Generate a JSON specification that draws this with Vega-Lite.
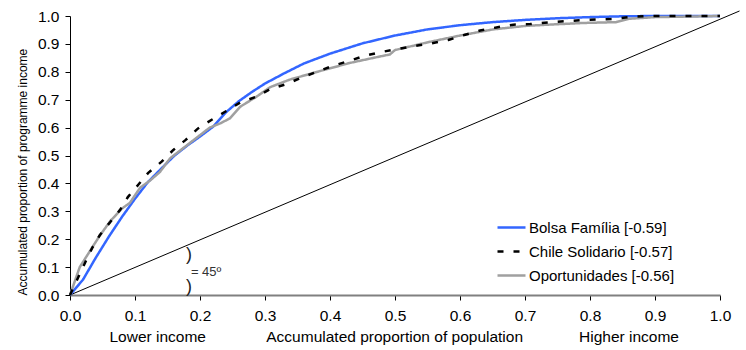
{
  "$schema": "https://vega.github.io/schema/vega-lite/v6.json",
  "width": 650,
  "height": 279,
  "autosize": {"type": "none"},
  "padding": {"left": 70, "top": 16, "right": 26, "bottom": 55},
  "config": {"view": {"stroke": null}, "font": "Liberation Sans"},
  "datasets": {
    "diag": [{"x": 0, "y": 0, "x2": 1.03, "y2": 1.018}],
    "curves": [
      {"s": "Bolsa Família [-0.59]", "x": 0, "y": 0},
      {"s": "Bolsa Família [-0.59]", "x": 0.02, "y": 0.055},
      {"s": "Bolsa Família [-0.59]", "x": 0.04, "y": 0.135},
      {"s": "Bolsa Família [-0.59]", "x": 0.06, "y": 0.21},
      {"s": "Bolsa Família [-0.59]", "x": 0.08, "y": 0.28},
      {"s": "Bolsa Família [-0.59]", "x": 0.1, "y": 0.345},
      {"s": "Bolsa Família [-0.59]", "x": 0.12, "y": 0.405},
      {"s": "Bolsa Família [-0.59]", "x": 0.14, "y": 0.452},
      {"s": "Bolsa Família [-0.59]", "x": 0.16, "y": 0.498},
      {"s": "Bolsa Família [-0.59]", "x": 0.18, "y": 0.535},
      {"s": "Bolsa Família [-0.59]", "x": 0.2, "y": 0.568},
      {"s": "Bolsa Família [-0.59]", "x": 0.22, "y": 0.603},
      {"s": "Bolsa Família [-0.59]", "x": 0.24, "y": 0.655},
      {"s": "Bolsa Família [-0.59]", "x": 0.26, "y": 0.695},
      {"s": "Bolsa Família [-0.59]", "x": 0.28, "y": 0.728},
      {"s": "Bolsa Família [-0.59]", "x": 0.3, "y": 0.758},
      {"s": "Bolsa Família [-0.59]", "x": 0.33, "y": 0.795},
      {"s": "Bolsa Família [-0.59]", "x": 0.36, "y": 0.83},
      {"s": "Bolsa Família [-0.59]", "x": 0.4, "y": 0.865},
      {"s": "Bolsa Família [-0.59]", "x": 0.45, "y": 0.902},
      {"s": "Bolsa Família [-0.59]", "x": 0.5, "y": 0.93},
      {"s": "Bolsa Família [-0.59]", "x": 0.55, "y": 0.952},
      {"s": "Bolsa Família [-0.59]", "x": 0.6, "y": 0.967},
      {"s": "Bolsa Família [-0.59]", "x": 0.65, "y": 0.978},
      {"s": "Bolsa Família [-0.59]", "x": 0.7, "y": 0.986},
      {"s": "Bolsa Família [-0.59]", "x": 0.75, "y": 0.992},
      {"s": "Bolsa Família [-0.59]", "x": 0.8, "y": 0.996},
      {"s": "Bolsa Família [-0.59]", "x": 0.85, "y": 0.999},
      {"s": "Bolsa Família [-0.59]", "x": 0.9, "y": 1.0},
      {"s": "Bolsa Família [-0.59]", "x": 1.0, "y": 1.0},
      {"s": "Oportunidades [-0.56]", "x": 0, "y": 0},
      {"s": "Oportunidades [-0.56]", "x": 0.015, "y": 0.1},
      {"s": "Oportunidades [-0.56]", "x": 0.03, "y": 0.155},
      {"s": "Oportunidades [-0.56]", "x": 0.045, "y": 0.21},
      {"s": "Oportunidades [-0.56]", "x": 0.062, "y": 0.265},
      {"s": "Oportunidades [-0.56]", "x": 0.08, "y": 0.31},
      {"s": "Oportunidades [-0.56]", "x": 0.092, "y": 0.33},
      {"s": "Oportunidades [-0.56]", "x": 0.108, "y": 0.385},
      {"s": "Oportunidades [-0.56]", "x": 0.123, "y": 0.41},
      {"s": "Oportunidades [-0.56]", "x": 0.138, "y": 0.44},
      {"s": "Oportunidades [-0.56]", "x": 0.154, "y": 0.49},
      {"s": "Oportunidades [-0.56]", "x": 0.164, "y": 0.508},
      {"s": "Oportunidades [-0.56]", "x": 0.19, "y": 0.555},
      {"s": "Oportunidades [-0.56]", "x": 0.2, "y": 0.573},
      {"s": "Oportunidades [-0.56]", "x": 0.215, "y": 0.6},
      {"s": "Oportunidades [-0.56]", "x": 0.231, "y": 0.615},
      {"s": "Oportunidades [-0.56]", "x": 0.246, "y": 0.633},
      {"s": "Oportunidades [-0.56]", "x": 0.262, "y": 0.675},
      {"s": "Oportunidades [-0.56]", "x": 0.287, "y": 0.711},
      {"s": "Oportunidades [-0.56]", "x": 0.308, "y": 0.745},
      {"s": "Oportunidades [-0.56]", "x": 0.338, "y": 0.772},
      {"s": "Oportunidades [-0.56]", "x": 0.385, "y": 0.803},
      {"s": "Oportunidades [-0.56]", "x": 0.431, "y": 0.832},
      {"s": "Oportunidades [-0.56]", "x": 0.477, "y": 0.855},
      {"s": "Oportunidades [-0.56]", "x": 0.492, "y": 0.862},
      {"s": "Oportunidades [-0.56]", "x": 0.5, "y": 0.878},
      {"s": "Oportunidades [-0.56]", "x": 0.549, "y": 0.905},
      {"s": "Oportunidades [-0.56]", "x": 0.6, "y": 0.93},
      {"s": "Oportunidades [-0.56]", "x": 0.651, "y": 0.952},
      {"s": "Oportunidades [-0.56]", "x": 0.703, "y": 0.965},
      {"s": "Oportunidades [-0.56]", "x": 0.754, "y": 0.971},
      {"s": "Oportunidades [-0.56]", "x": 0.79, "y": 0.975},
      {"s": "Oportunidades [-0.56]", "x": 0.84, "y": 0.978},
      {"s": "Oportunidades [-0.56]", "x": 0.86, "y": 0.99},
      {"s": "Oportunidades [-0.56]", "x": 0.9, "y": 0.996},
      {"s": "Oportunidades [-0.56]", "x": 1.0, "y": 1.0},
      {"s": "Chile Solidario [-0.57]", "x": 0, "y": 0},
      {"s": "Chile Solidario [-0.57]", "x": 0.012, "y": 0.06},
      {"s": "Chile Solidario [-0.57]", "x": 0.023, "y": 0.115},
      {"s": "Chile Solidario [-0.57]", "x": 0.034, "y": 0.168},
      {"s": "Chile Solidario [-0.57]", "x": 0.046, "y": 0.215},
      {"s": "Chile Solidario [-0.57]", "x": 0.062, "y": 0.262},
      {"s": "Chile Solidario [-0.57]", "x": 0.077, "y": 0.305},
      {"s": "Chile Solidario [-0.57]", "x": 0.089, "y": 0.351},
      {"s": "Chile Solidario [-0.57]", "x": 0.105, "y": 0.395},
      {"s": "Chile Solidario [-0.57]", "x": 0.12, "y": 0.437},
      {"s": "Chile Solidario [-0.57]", "x": 0.141, "y": 0.478},
      {"s": "Chile Solidario [-0.57]", "x": 0.159, "y": 0.52},
      {"s": "Chile Solidario [-0.57]", "x": 0.178, "y": 0.556},
      {"s": "Chile Solidario [-0.57]", "x": 0.197, "y": 0.597},
      {"s": "Chile Solidario [-0.57]", "x": 0.218, "y": 0.628},
      {"s": "Chile Solidario [-0.57]", "x": 0.241, "y": 0.66},
      {"s": "Chile Solidario [-0.57]", "x": 0.262, "y": 0.69},
      {"s": "Chile Solidario [-0.57]", "x": 0.287, "y": 0.711},
      {"s": "Chile Solidario [-0.57]", "x": 0.308, "y": 0.738},
      {"s": "Chile Solidario [-0.57]", "x": 0.333, "y": 0.756},
      {"s": "Chile Solidario [-0.57]", "x": 0.356, "y": 0.779},
      {"s": "Chile Solidario [-0.57]", "x": 0.38, "y": 0.8},
      {"s": "Chile Solidario [-0.57]", "x": 0.405, "y": 0.822},
      {"s": "Chile Solidario [-0.57]", "x": 0.431, "y": 0.84},
      {"s": "Chile Solidario [-0.57]", "x": 0.454, "y": 0.858},
      {"s": "Chile Solidario [-0.57]", "x": 0.477, "y": 0.87},
      {"s": "Chile Solidario [-0.57]", "x": 0.5, "y": 0.88},
      {"s": "Chile Solidario [-0.57]", "x": 0.531, "y": 0.893},
      {"s": "Chile Solidario [-0.57]", "x": 0.556, "y": 0.902},
      {"s": "Chile Solidario [-0.57]", "x": 0.582, "y": 0.914},
      {"s": "Chile Solidario [-0.57]", "x": 0.608, "y": 0.933},
      {"s": "Chile Solidario [-0.57]", "x": 0.631, "y": 0.948},
      {"s": "Chile Solidario [-0.57]", "x": 0.656, "y": 0.959},
      {"s": "Chile Solidario [-0.57]", "x": 0.682, "y": 0.969},
      {"s": "Chile Solidario [-0.57]", "x": 0.708, "y": 0.971},
      {"s": "Chile Solidario [-0.57]", "x": 0.735, "y": 0.977},
      {"s": "Chile Solidario [-0.57]", "x": 0.787, "y": 0.985},
      {"s": "Chile Solidario [-0.57]", "x": 0.838, "y": 0.99},
      {"s": "Chile Solidario [-0.57]", "x": 0.864, "y": 0.997},
      {"s": "Chile Solidario [-0.57]", "x": 0.89, "y": 1.0},
      {"s": "Chile Solidario [-0.57]", "x": 1.0, "y": 1.0}
    ],
    "label": [{"x": 0.186, "y": 0.082, "t": "= 45º"}],
    "arcs": [{"x": 0.183, "y": 0.145, "t": ")"}, {"x": 0.183, "y": 0.027, "t": ")"}]
  },
  "encoding": {
    "x": {
      "field": "x", "type": "quantitative",
      "scale": {"domain": [0, 1], "nice": false},
      "axis": {
        "values": [0, 0.1, 0.2, 0.3, 0.4, 0.5, 0.6, 0.7, 0.8, 0.9, 1.0],
        "format": ".1f", "grid": false,
        "domainColor": "#808080", "domainWidth": 2,
        "tickColor": "#000000", "tickSize": 5, "tickWidth": 1,
        "labelFontSize": 15.5, "labelColor": "#000000", "labelPadding": 8,
        "labelFlush": false,
        "title": "Lower income\u00a0\u00a0\u00a0\u00a0\u00a0\u00a0\u00a0\u00a0\u00a0\u00a0\u00a0\u00a0\u00a0\u00a0Accumulated proportion of population\u00a0\u00a0\u00a0\u00a0\u00a0\u00a0\u00a0\u00a0\u00a0\u00a0\u00a0\u00a0\u00a0Higher income",
        "titleFontSize": 15.5, "titleFontWeight": "normal", "titleColor": "#000000",
        "titleAnchor": "start", "titleX": 39, "titlePadding": 6
      }
    },
    "y": {
      "field": "y", "type": "quantitative",
      "scale": {"domain": [0, 1], "nice": false},
      "axis": {
        "values": [0, 0.1, 0.2, 0.3, 0.4, 0.5, 0.6, 0.7, 0.8, 0.9, 1.0],
        "format": ".1f", "grid": false,
        "domainColor": "#000000", "domainWidth": 1,
        "tickColor": "#000000", "tickSize": 5, "tickWidth": 1,
        "labelFontSize": 15.5, "labelColor": "#000000", "labelPadding": 6,
        "labelFlush": false,
        "title": "Accumulated proportion of programme income",
        "titleFontSize": 12, "titleFontWeight": "normal", "titleColor": "#000000",
        "titleAnchor": "start", "titlePadding": 8
      }
    }
  },
  "layer": [
    {
      "data": {"name": "diag"},
      "mark": {"type": "rule", "color": "#000000", "strokeWidth": 1},
      "encoding": {"x2": {"field": "x2"}, "y2": {"field": "y2"}}
    },
    {
      "data": {"name": "curves"},
      "mark": {"type": "line", "strokeWidth": 2.5},
      "encoding": {
        "color": {
          "field": "s", "type": "nominal",
          "scale": {
            "domain": ["Bolsa Família [-0.59]", "Chile Solidario [-0.57]", "Oportunidades [-0.56]"],
            "range": ["#3366ff", "#000000", "#a0a0a0"]
          },
          "legend": {
            "title": null, "orient": "none", "legendX": 426, "legendY": 196,
            "symbolType": "stroke", "symbolSize": 784, "symbolStrokeWidth": 2.5,
            "labelFontSize": 15, "labelColor": "#000000", "labelOffset": 2,
            "rowPadding": -12
          }
        },
        "strokeDash": {
          "field": "s", "type": "nominal",
          "scale": {
            "domain": ["Bolsa Família [-0.59]", "Chile Solidario [-0.57]", "Oportunidades [-0.56]"],
            "range": [[1, 0], [6, 10], [1, 0]]
          },
          "legend": {
            "title": null, "orient": "none", "legendX": 426, "legendY": 196,
            "symbolType": "stroke", "symbolSize": 784, "symbolStrokeWidth": 2.5,
            "labelFontSize": 15, "labelColor": "#000000", "labelOffset": 2,
            "rowPadding": -12
          }
        }
      }
    },
    {
      "data": {"name": "label"},
      "mark": {"type": "text", "align": "left", "baseline": "middle", "fontSize": 13, "color": "#333333"},
      "encoding": {"text": {"field": "t"}}
    },
    {
      "data": {"name": "arcs"},
      "mark": {"type": "text", "align": "center", "baseline": "middle", "fontSize": 18, "color": "#222222"},
      "encoding": {"text": {"field": "t"}}
    }
  ]
}
